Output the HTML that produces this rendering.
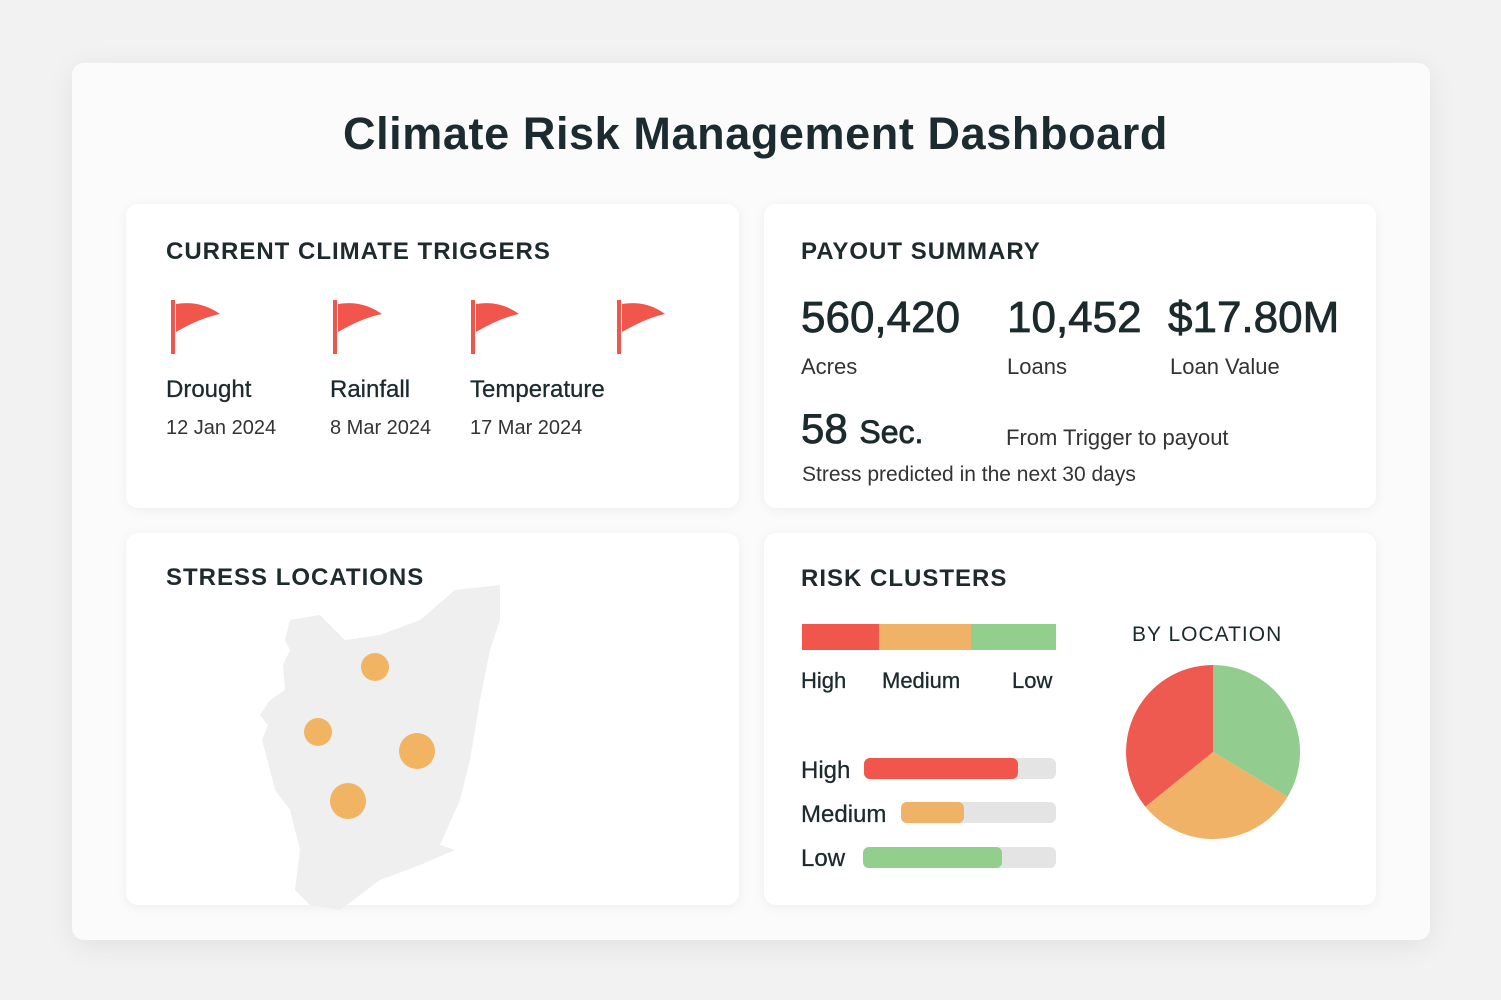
<!DOCTYPE html><html><head><style>
body{margin:0;width:1501px;height:1000px;background:#f2f2f2;font-family:"Liberation Sans",sans-serif;color:#1c2a2e;position:relative;overflow:hidden}
.a{position:absolute}
.card{position:absolute;left:72px;top:63px;width:1358px;height:877px;background:#fbfbfb;border-radius:12px;box-shadow:0 6px 30px rgba(0,0,0,.07)}
.p{position:absolute;background:#fff;border-radius:12px;box-shadow:0 2px 12px rgba(0,0,0,.06)}
.h{font-size:24px;font-weight:bold;letter-spacing:1px;color:#1e2a2c}
.t{font-size:24px;-webkit-text-stroke:0.3px #1c2a2e}
.d{font-size:20px;color:#333}
.n{font-size:44px;-webkit-text-stroke:0.8px #1c2a2e}
</style></head><body>
<div class="card"></div>
<div class="a" style="left:0;width:1511px;top:108px;text-align:center;font-size:45px;font-weight:bold;letter-spacing:0.6px;color:#1b2b2f">Climate Risk Management Dashboard</div>
<div class="p" style="left:126px;top:204px;width:613px;height:304px"></div>
<div class="p" style="left:764px;top:204px;width:612px;height:304px"></div>
<div class="p" style="left:126px;top:533px;width:613px;height:372px"></div>
<div class="p" style="left:764px;top:533px;width:612px;height:372px"></div>
<svg class="a" style="left:0;top:0" width="1501" height="1000">
<g fill="#f0564b">
<rect x="171" y="300" width="4" height="54"/><path d="M176 304 Q200 300 220 314 Q200 318 176 332Z"/>
<rect x="333" y="300" width="4" height="54"/><path d="M338 304 Q362 300 382 314 Q362 318 338 332Z"/>
<rect x="471" y="300" width="4" height="54"/><path d="M476 304 Q500 300 519 314 Q500 318 476 332Z"/>
<rect x="617" y="300" width="4" height="54"/><path d="M622 304 Q646 300 665 314 Q646 318 622 332Z"/>
</g>
<path fill="#efefef" d="M455 590 L500 585 L500 620 L490 650 L480 700 L470 760 L460 800 L440 845 L455 850 L420 865 L380 880 L340 910 L310 905 L295 890 L300 850 L290 810 L275 790 L270 770 L262 740 L268 725 L260 715 L270 700 L285 690 L283 665 L290 650 L285 640 L290 620 L320 615 L345 640 L380 635 L420 620Z"/>
<g fill="#f0b463"><circle cx="375" cy="667" r="14"/><circle cx="318" cy="732" r="14"/><circle cx="417" cy="751" r="18"/><circle cx="348" cy="801" r="18"/></g>
<rect x="802" y="624" width="77" height="26" fill="#f0564b"/><rect x="879" y="624" width="92" height="26" fill="#efb267"/><rect x="971" y="624" width="85" height="26" fill="#92cf8d"/>
<rect x="864" y="758" width="192" height="21" rx="6" fill="#e4e4e4"/><rect x="864" y="758" width="154" height="21" rx="6" fill="#f0564b"/>
<rect x="901" y="802" width="155" height="21" rx="6" fill="#e4e4e4"/><rect x="901" y="802" width="63" height="21" rx="6" fill="#efb267"/>
<rect x="863" y="847" width="193" height="21" rx="6" fill="#e4e4e4"/><rect x="863" y="847" width="139" height="21" rx="6" fill="#92cf8d"/>
<path d="M1213 752 L1213 665 A87 87 0 0 1 1287.6 796.8Z" fill="#92cd8f"/>
<path d="M1213 752 L1287.6 796.8 A87 87 0 0 1 1145.4 806.7Z" fill="#efb267"/>
<path d="M1213 752 L1145.4 806.7 A87 87 0 0 1 1213 665Z" fill="#ee5a50"/>
</svg>
<div class="a h" style="left:166px;top:238px">CURRENT CLIMATE TRIGGERS</div>
<div class="a t" style="left:166px;top:376px">Drought</div><div class="a d" style="left:166px;top:417px">12 Jan 2024</div>
<div class="a t" style="left:330px;top:376px">Rainfall</div><div class="a d" style="left:330px;top:417px">8 Mar 2024</div>
<div class="a t" style="left:470px;top:376px">Temperature</div><div class="a d" style="left:470px;top:417px">17 Mar 2024</div>
<div class="a h" style="left:801px;top:238px">PAYOUT SUMMARY</div>
<div class="a n" style="left:801px;top:293px">560,420</div>
<div class="a n" style="left:1007px;top:293px">10,452</div>
<div class="a n" style="left:1168px;top:293px">$17.80M</div>
<div class="a d" style="left:801px;top:354px;font-size:22px">Acres</div>
<div class="a d" style="left:1007px;top:354px;font-size:22px">Loans</div>
<div class="a d" style="left:1170px;top:354px;font-size:22px">Loan Value</div>
<div class="a n" style="left:801px;top:405px;font-size:42px">58 <span style="font-size:32px">Sec.</span></div>
<div class="a d" style="left:1006px;top:425px;font-size:22px">From Trigger to payout</div>
<div class="a d" style="left:802px;top:463px;font-size:21px">Stress predicted in the next 30 days</div>
<div class="a h" style="left:166px;top:564px">STRESS LOCATIONS</div>
<div class="a h" style="left:801px;top:565px">RISK CLUSTERS</div>
<div class="a t" style="left:801px;top:668px;font-size:22px">High</div>
<div class="a t" style="left:882px;top:668px;font-size:22px">Medium</div>
<div class="a t" style="left:1012px;top:668px;font-size:22px">Low</div>
<div class="a" style="left:1132px;top:623px;font-size:21px;letter-spacing:1px">BY LOCATION</div>
<div class="a t" style="left:801px;top:757px">High</div>
<div class="a t" style="left:801px;top:801px">Medium</div>
<div class="a t" style="left:801px;top:845px">Low</div>
</body></html>
